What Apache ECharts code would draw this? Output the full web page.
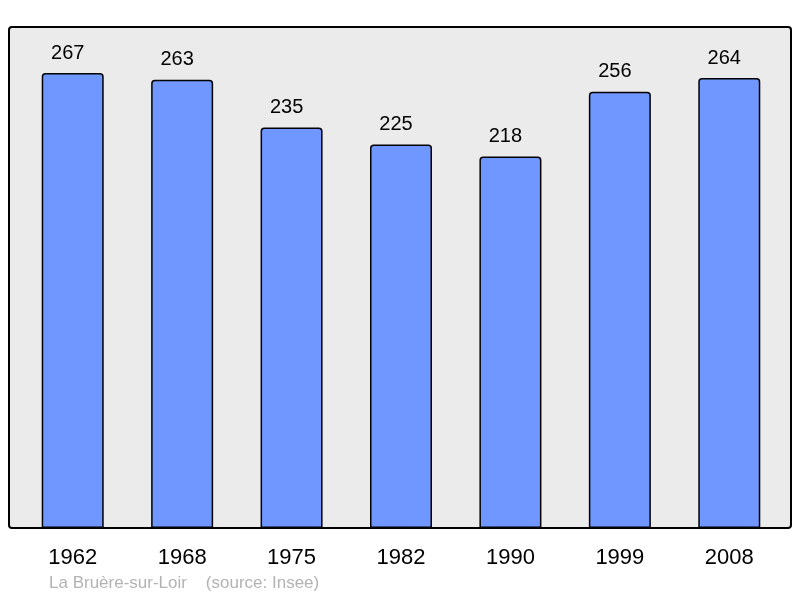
<!DOCTYPE html>
<html>
<head>
<meta charset="utf-8">
<script src="https://cdn.jsdelivr.net/npm/echarts@6/dist/echarts.min.js"></script>
<style>html,body{margin:0;padding:0;background:#fff;}#c{width:800px;height:598px;}</style>
</head>
<body>
<div id="c"></div>
<script>
var years = ['1962', '1968', '1975', '1982', '1990', '1999', '2008'];
var population = [267, 263, 235, 225, 218, 256, 264];
var footerText = 'La Bruère-sur-Loir    (source: Insee)';

var chart = echarts.init(document.getElementById('c'), null, {renderer: 'canvas'});
chart.setOption({
  animation: false,
  backgroundColor: '#ffffff',
  graphic: [
    {type: 'rect', z: -10, silent: true,
     shape: {x: 9, y: 27, width: 782, height: 501, r: 3},
     style: {fill: '#ebebeb', stroke: '#000', lineWidth: 2}},
    {type: 'text', left: 49, top: 575,
     style: {text: footerText, fill: '#b3b3b3', font: '17px "Liberation Sans", Arial, sans-serif'}}
  ],
  grid: {left: 18, right: 16, top: 27, bottom: 70},
  xAxis: {
    type: 'category', data: years,
    axisLine: {show: false}, axisTick: {show: false},
    axisLabel: {color: '#000', fontSize: 22, margin: 19, fontFamily: 'Liberation Sans, Arial, sans-serif'}
  },
  yAxis: {
    type: 'value', min: 0, max: 294,
    show: false, splitLine: {show: false}
  },
  series: [{
    type: 'bar', data: population, barWidth: 62,
    itemStyle: {color: '#7097ff', borderColor: '#000', borderWidth: 1.5, borderRadius: [3, 3, 0, 0]},
    label: {show: true, position: 'top', distance: 10, offset: [-5, 0], color: '#000', fontSize: 20,
            fontFamily: 'Liberation Sans, Arial, sans-serif'}
  }]
});
</script>
</body>
</html>
